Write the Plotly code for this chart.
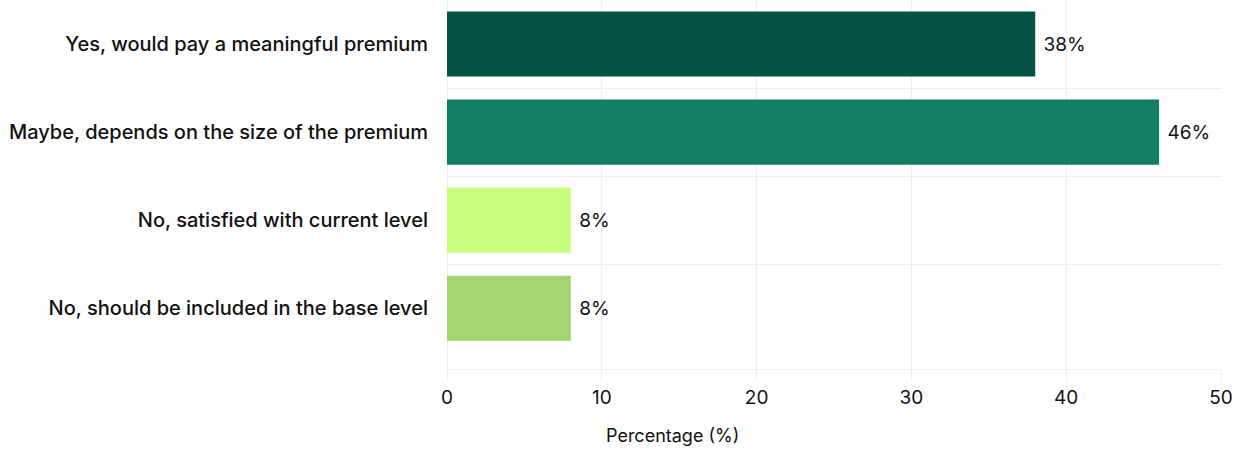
import plotly.graph_objects as go

# Survey responses: willingness to pay a premium
categories = [
    "Yes, would pay a meaningful premium",
    "Maybe, depends on the size of the premium",
    "No, satisfied with current level",
    "No, should be included in the base level",
]
percentages = [38, 46, 8, 8]
bar_colors = ["#045243", "#127f65", "#c8fe7e", "#a2d46f"]
x_ticks = [0, 10, 20, 30, 40, 50]

GRID = "#efefef"
TEXT = "#111111"
FONT = "Inter"

positions = list(range(len(categories)))

fig = go.Figure(
    go.Bar(
        x=percentages,
        y=positions,
        orientation="h",
        width=0.74,
        marker=dict(color=bar_colors, line=dict(width=0)),
        text=[f" {v}%" for v in percentages],
        textposition="outside",
        textfont=dict(family=FONT, size=19, color=TEXT),
        cliponaxis=False,
        hoverinfo="skip",
    )
)

fig.update_layout(
    width=1247,
    height=450,
    margin=dict(l=447, r=26, t=0, b=81),
    paper_bgcolor="white",
    plot_bgcolor="white",
    showlegend=False,
    font=dict(family=FONT, color=TEXT),
)

fig.update_xaxes(
    range=[0, 50],
    tickvals=x_ticks,
    tickfont=dict(family=FONT, size=19, color=TEXT),
    showgrid=True,
    gridcolor=GRID,
    gridwidth=1,
    zeroline=True,
    zerolinecolor=GRID,
    zerolinewidth=1,
    showline=True,
    linecolor=GRID,
    linewidth=1,
    ticks="outside",
    ticklen=11,
    tickcolor=GRID,
    tickwidth=1,
)

# Axis title placed as an annotation below the tick labels
fig.add_annotation(
    text="Percentage (%)",
    xref="paper",
    yref="paper",
    x=0.2915,
    y=-0.18,
    xanchor="center",
    yanchor="middle",
    showarrow=False,
    font=dict(family=FONT, size=18, color=TEXT),
)

fig.update_yaxes(
    range=[len(categories) - 0.31, -0.5],
    tickvals=positions,
    ticktext=categories,
    tickfont=dict(family=FONT, size=20, color=TEXT, weight=500),
    showgrid=False,
    zeroline=False,
    showline=False,
    ticks="",
    ticklabelstandoff=18,
    minor=dict(
        tickvals=[i + 0.5 for i in positions[:-1]],
        showgrid=True,
        gridcolor=GRID,
        gridwidth=1,
        ticks="",
    ),
)

fig.write_html("out.html")
